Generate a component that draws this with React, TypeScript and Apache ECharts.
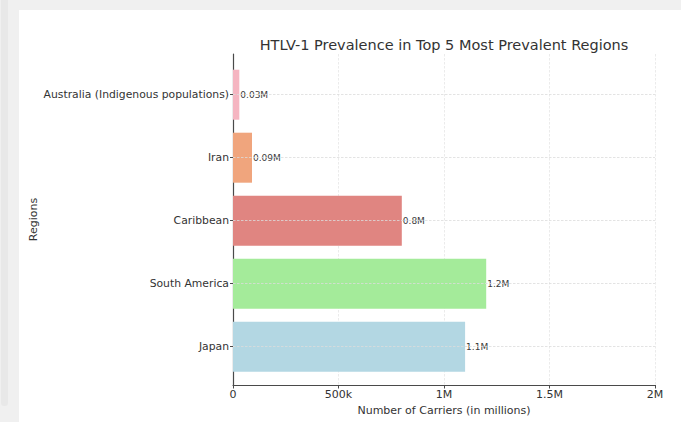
import React, { useEffect, useRef } from "react";
import * as echarts from "echarts";

const regions = [
  "Japan",
  "South America",
  "Caribbean",
  "Iran",
  "Australia (Indigenous populations)",
];
const carriers = [1100000, 1200000, 800000, 90000, 30000];
const barColors = ["#b3d7e3", "#a4eb9a", "#e08581", "#f0a57d", "#f5b5c1"];
const xTicks = [0, 500000, 1000000, 1500000, 2000000];
const xTickLabels = ["0", "500k", "1M", "1.5M", "2M"];

const FONT = "DejaVu Sans";

export default function App() {
  const ref = useRef<HTMLDivElement>(null);
  useEffect(() => {
    if (!ref.current) return;
    const chart = echarts.init(ref.current, null, { renderer: "svg" });
    chart.setOption({
      animation: false,
      backgroundColor: "transparent",
      textStyle: { fontFamily: FONT },
      title: {
        text: "HTLV-1 Prevalence in Top 5 Most Prevalent Regions",
        left: 444,
        top: 37,
        padding: 0,
        textAlign: "center",
        textStyle: { fontFamily: FONT, fontSize: 14.5, fontWeight: "normal", color: "#333" },
      },
      grid: [
        { left: 233, right: 26, top: 63.2, bottom: 43.8 },
        { left: 233, right: 26, top: 54, bottom: 37 },
      ],
      xAxis: [
        {
          gridIndex: 0,
          type: "value",
          min: 0,
          max: 2000000,
          show: false,
          splitLine: { show: false },
        },
        {
          gridIndex: 1,
          type: "value",
          min: 0,
          max: 2000000,
          interval: 500000,
          axisLine: { show: true, lineStyle: { color: "#4a4a4a", width: 1.2 } },
          axisTick: { show: true, length: 3.5, lineStyle: { color: "#4a4a4a" } },
          axisLabel: {
            fontSize: 11,
            color: "#333",
            margin: 4,
            fontFamily: FONT,
            formatter: (v: number) => {
              const i = xTicks.indexOf(v);
              return i >= 0 ? xTickLabels[i] : "";
            },
          },
          splitLine: {
            show: true,
            lineStyle: { color: "#e6e6e6", width: 0.8, type: [2.5, 1.5] },
          },
          name: "Number of Carriers (in millions)",
          nameLocation: "middle",
          nameGap: 18,
          nameTextStyle: { fontSize: 11, color: "#333", fontFamily: FONT, verticalAlign: "top" },
        },
      ],
      yAxis: [
        {
          gridIndex: 0,
          type: "category",
          data: regions,
          axisLine: { show: false },
          axisTick: {
            show: true,
            alignWithLabel: true,
            length: 3,
            lineStyle: { color: "#4a4a4a" },
          },
          axisLabel: { fontSize: 10.8, color: "#333", margin: 4, fontFamily: FONT },
          splitLine: { show: false },
        },
        {
          gridIndex: 1,
          type: "value",
          min: 0,
          max: 1,
          axisLine: { show: true, lineStyle: { color: "#4a4a4a", width: 1.2 } },
          axisTick: { show: false },
          axisLabel: { show: false },
          splitLine: { show: false },
          name: "Regions",
          nameLocation: "middle",
          nameGap: 194,
          nameTextStyle: { fontSize: 11, color: "#333", fontFamily: FONT },
        },
      ],
      series: [
        {
          type: "bar",
          xAxisIndex: 0,
          yAxisIndex: 0,
          barWidth: 50,
          data: carriers.map((v, i) => ({ value: v, itemStyle: { color: barColors[i] } })),
          label: {
            show: true,
            position: "right",
            distance: 1,
            fontSize: 9,
            color: "#3a3a3a",
            fontFamily: FONT,
            formatter: (p: any) => `${p.value / 1000000}M`,
          },
          markLine: {
            silent: true,
            symbol: ["none", "none"],
            label: { show: false },
            lineStyle: { color: "#dcdcdc", width: 0.8, type: [2.5, 1.5] },
            data: regions.map((r) => ({ yAxis: r })),
          },
        },
      ],
    });
    return () => chart.dispose();
  }, []);

  return (
    <div style={{ position: "fixed", left: 0, top: 0, width: 681, height: 422, background: "#f0f0f0", overflow: "hidden" }}>
      <div style={{ position: "absolute", left: 1, top: -6, width: 7, height: 412, background: "#e8e8e8", borderRadius: 3 }} />
      <div style={{ position: "absolute", left: 19, top: 10, right: 0, bottom: 0, background: "#ffffff" }} />
      <div ref={ref} style={{ position: "absolute", left: 0, top: 0, width: 681, height: 422 }} />
    </div>
  );
}
